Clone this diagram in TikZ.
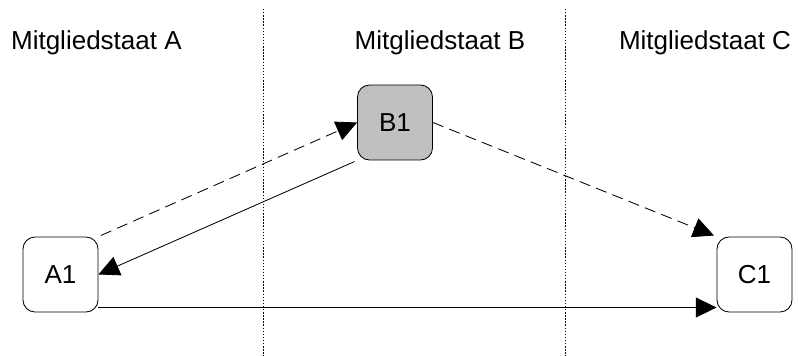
\documentclass[tikz,border=0pt]{standalone}
\usepackage{fontspec}
\setmainfont{Liberation Sans}
\usepackage{tikz}
\usetikzlibrary{
  arrows.meta
  , positioning
}

\begin{document}
\begin{tikzpicture}[
        font=\fontsize{18.5}{22}\selectfont
      ]
      \def \W {1.875};
      \def \TopY {-0.225};
      \def \BotY {-8.9};

      \tikzstyle{state template}=[rectangle,draw=black,line width=0.6pt,rounded corners=0.3cm,minimum width=\W cm,minimum height=\W cm,fill=white];
      \tikzstyle{border}=[line width=0.5pt,dash pattern=on 1pt off 1.2pt];
      \tikzstyle{flow}=[line width=0.6pt,-{Triangle[length=0.52cm,width=0.5cm]}];
      \tikzstyle{msg}=[flow,dash pattern=on 8pt off 4.5pt];

      \useasboundingbox (0,0) rectangle (19.95,\BotY);

      % country borders
      \coordinate (borderAB top) at (6.575,\TopY);
      \coordinate (borderAB bot) at (6.575,\BotY);
      \coordinate (borderBC top) at (14.125,\TopY);
      \coordinate (borderBC bot) at (14.125,\BotY);
      \draw [border] (borderAB top) -- (borderAB bot);
      \draw [border] (borderBC top) -- (borderBC bot);

      \node (stateA) at (2.41,-1.075) {Mitgliedstaat A};
      \node (stateB) at (11.0,-1.075) {Mitgliedstaat B};
      \node (stateC) at (17.625,-1.075) {Mitgliedstaat C};

      \node [state template] (A1) at (1.5125,-6.8625) {A1};
      \node [state template, fill={rgb,255:red,192;green,192;blue,192}] (B1) at (9.875,-3.0625) {B1};
      \node [state template] (C1) at (18.8625,-6.8625) {C1};

      \draw [msg, shorten <=2pt] (A1.north east) -- (B1.west);
      \draw [flow, shorten <=2pt] (B1.south west) -- (A1.east);
      \draw [msg, shorten >=2pt] (B1.east) -- (C1.north west);
      \draw [flow] ([yshift=3.5pt]A1.south east) -- ([yshift=3.5pt]C1.south west);

    \end{tikzpicture}
\end{document}
